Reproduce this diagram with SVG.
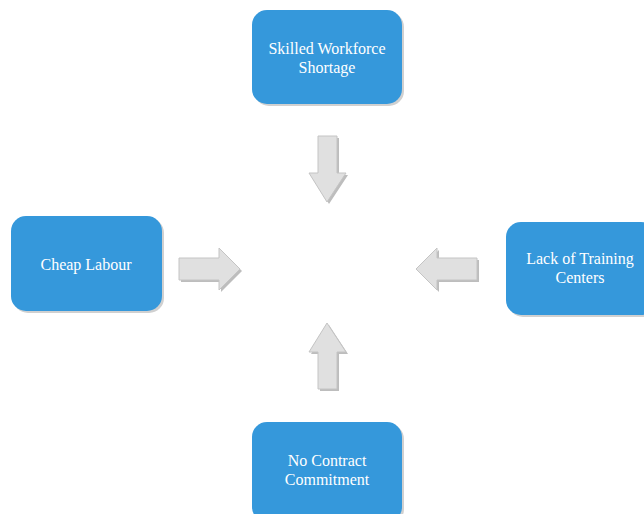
<svg xmlns="http://www.w3.org/2000/svg" width="644" height="514" viewBox="0 0 644 514">
  <style>
    .box { fill: #3598db; }
    .shadow { fill: #d0d0d0; }
    .label { font-family: "Liberation Serif", "Times New Roman", serif; font-size: 16px; fill: #ffffff; text-anchor: middle; }
    .arrow { fill: #e0e0e0; stroke: #c4c4c4; stroke-width: 1; }
    .arrow-shadow { fill: #bdbdbd; }
  </style>
  <rect width="644" height="514" fill="#ffffff"/>

  <g id="skilled-workforce-shortage">
    <rect class="shadow" x="254" y="12" width="150" height="94" rx="15"/>
    <rect class="box" x="252" y="10" width="150" height="94" rx="15"/>
    <text class="label" x="327" y="54">Skilled Workforce</text>
    <text class="label" x="327" y="73">Shortage</text>
  </g>

  <g id="cheap-labour">
    <rect class="shadow" x="13" y="218" width="151" height="95" rx="15"/>
    <rect class="box" x="11" y="216" width="151" height="95" rx="15"/>
    <text class="label" x="86" y="270">Cheap Labour</text>
  </g>

  <g id="lack-of-training-centers">
    <rect class="shadow" x="508" y="224" width="150" height="93" rx="15"/>
    <rect class="box" x="506" y="222" width="150" height="93" rx="15"/>
    <text class="label" x="580" y="264">Lack of Training</text>
    <text class="label" x="580" y="283">Centers</text>
  </g>

  <g id="no-contract-commitment">
    <rect class="shadow" x="254" y="424" width="150" height="100" rx="15"/>
    <rect class="box" x="252" y="422" width="150" height="100" rx="15"/>
    <text class="label" x="327" y="466">No Contract</text>
    <text class="label" x="327" y="485">Commitment</text>
  </g>

  <g id="connectors">
    <!-- down arrow from top box -->
    <polygon class="arrow-shadow" transform="translate(2,2)" points="318,136 337,136 337,173 346,173 327,202 309,173 318,173"/>
    <polygon class="arrow" points="318,136 337,136 337,173 346,173 327,202 309,173 318,173"/>

    <!-- right arrow from left box -->
    <polygon class="arrow-shadow" transform="translate(2,2)" points="179,258 219,258 219,248 240,269 219,290 219,280 179,280"/>
    <polygon class="arrow" points="179,258 219,258 219,248 240,269 219,290 219,280 179,280"/>

    <!-- left arrow from right box -->
    <polygon class="arrow-shadow" transform="translate(2,2)" points="477,258 437,258 437,248 416,269 437,290 437,280 477,280"/>
    <polygon class="arrow" points="477,258 437,258 437,248 416,269 437,290 437,280 477,280"/>

    <!-- up arrow from bottom box -->
    <polygon class="arrow-shadow" transform="translate(2,2)" points="318,389 337,389 337,352 346,352 327,323 309,352 318,352"/>
    <polygon class="arrow" points="318,389 337,389 337,352 346,352 327,323 309,352 318,352"/>
  </g>
</svg>
